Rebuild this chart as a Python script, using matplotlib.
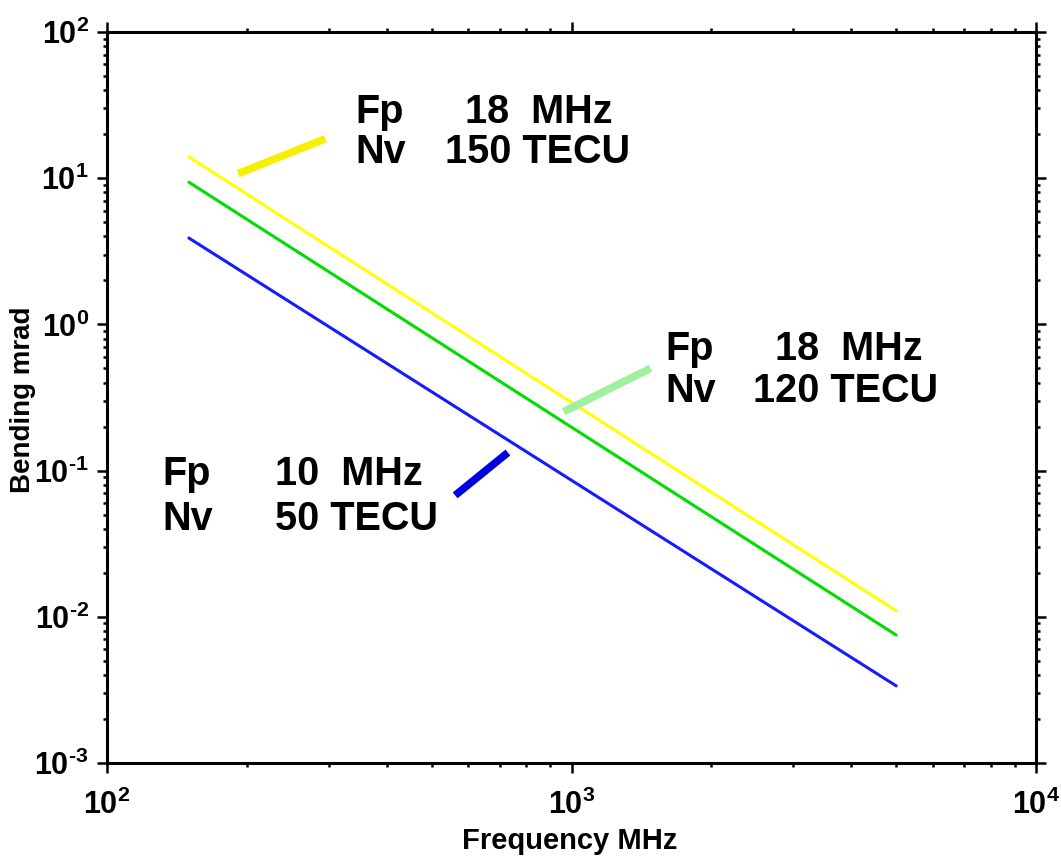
import matplotlib
matplotlib.use("Agg")
import matplotlib.pyplot as plt
from matplotlib.ticker import FuncFormatter
import numpy as np

# --- data (log-log straight lines, endpoints) ---
freq_mhz = [150, 5000]
bend_150tecu = [14.0, 0.011]     # Fp 18 MHz, Nv 150 TECU (yellow)
bend_120tecu = [9.4, 0.0075]     # Fp 18 MHz, Nv 120 TECU (green)
bend_50tecu = [3.9, 0.00337]     # Fp 10 MHz, Nv 50 TECU (blue)

fp_values = [18, 18, 10]
nv_values = [150, 120, 50]

# short pointer strokes next to the labels
pointer_x = [[195, 290], [978, 1455], [570, 719]]
pointer_y = [[11.0, 18.2], [0.26, 0.488], [0.0703, 0.128]]

plt.rcParams["font.family"] = "Liberation Sans"
plt.rcParams["font.weight"] = "bold"
plt.rcParams["mathtext.fontset"] = "custom"
plt.rcParams["mathtext.rm"] = "Liberation Sans:bold"
plt.rcParams["mathtext.bf"] = "Liberation Sans:bold"
plt.rcParams["mathtext.it"] = "Liberation Sans:bold"
plt.rcParams["mathtext.default"] = "rm"
plt.rcParams["axes.unicode_minus"] = False

W, H = 1061, 859
fig = plt.figure(figsize=(W / 100, H / 100), dpi=100)
ax = fig.add_axes([107 / W, 1 - 763 / H, 929 / W, 731 / H])

ax.plot(freq_mhz, bend_150tecu, color="#ffff00", linewidth=2.2, solid_capstyle="round")
ax.plot(freq_mhz, bend_120tecu, color="#00dd00", linewidth=2.2, solid_capstyle="round")
ax.plot(freq_mhz, bend_50tecu, color="#1a1aff", linewidth=2.2, solid_capstyle="round")

pointer_colors = ["#f5f000", "#9ef09e", "#0000e0"]
for px, py, c in zip(pointer_x, pointer_y, pointer_colors):
    ax.plot(px, py, color=c, linewidth=5.5)

ax.set_xscale("log")
ax.set_yscale("log")
ax.set_xlim(1e2, 1e4)
ax.set_ylim(1e-3, 1e2)


def pow10(v, pos):
    e = int(round(np.log10(v)))
    if e < 0:
        return r"$\mathdefault{10^{\text{-}%d}}$" % (-e)
    return r"$\mathdefault{10^{%d}}$" % e


ax.xaxis.set_major_formatter(FuncFormatter(pow10))
ax.yaxis.set_major_formatter(FuncFormatter(pow10))

for s in ax.spines.values():
    s.set_linewidth(2.2)

ax.tick_params(which="both", direction="out", top=True, right=True, width=1.8)
ax.tick_params(which="major", length=7, labelsize=22, pad=6)
ax.tick_params(axis="x", which="major", pad=12)
ax.tick_params(which="minor", length=3)

ax.set_xlabel("Frequency MHz", fontsize=21, fontweight="bold")
ax.set_ylabel("Bending mrad", fontsize=20, fontweight="bold")
ax.xaxis.set_label_coords(0.498, -0.088)
ax.yaxis.set_label_coords(-0.076, 0.497)

# labels (pixel positions -> figure fraction)
def put(x, y, s):
    fig.text(x / W, 1 - y / H, s, fontsize=28.5, fontweight="bold", va="baseline", ha="left")

label_pos = [
    ((355, 123), (465, 445), (355, 163)),
    ((665, 360), (775, 753), (665, 402)),
    ((162, 485), (275, 275), (162, 530)),
]
for (fp_xy, val_x, nv_xy), fp, nv in zip(label_pos, fp_values, nv_values):
    put(fp_xy[0], fp_xy[1], "Fp")
    put(val_x[0], fp_xy[1], f"{fp}  MHz")
    put(nv_xy[0], nv_xy[1], "Nv")
    put(val_x[1], nv_xy[1], f"{nv} TECU")

plt.savefig("out.png", dpi=100)
